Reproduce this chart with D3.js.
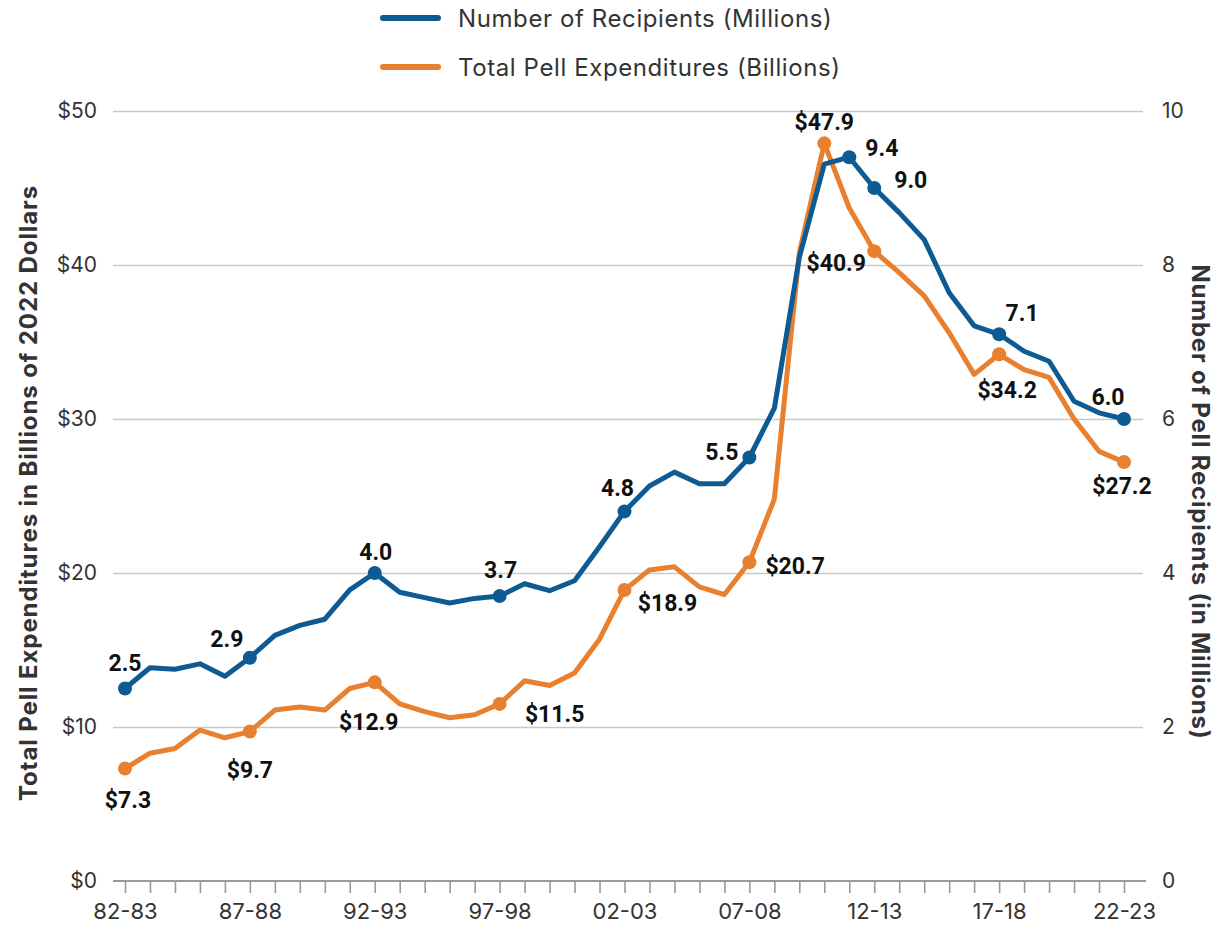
<!DOCTYPE html>
<html>
<head>
<meta charset="utf-8">
<script src="https://cdn.jsdelivr.net/npm/d3@7"></script>
<style>
  html, body { margin: 0; padding: 0; background: #fff; }
  svg { display: block; }
</style>
</head>
<body>
<svg id="chart" width="1217" height="928"></svg>
<script>
// ---------- DATA ----------
const years = ["82-83","83-84","84-85","85-86","86-87","87-88","88-89","89-90","90-91","91-92",
  "92-93","93-94","94-95","95-96","96-97","97-98","98-99","99-00","00-01","01-02",
  "02-03","03-04","04-05","05-06","06-07","07-08","08-09","09-10","10-11","11-12",
  "12-13","13-14","14-15","15-16","16-17","17-18","18-19","19-20","20-21","21-22","22-23"];
const xTickLabels = ["82-83","87-88","92-93","97-98","02-03","07-08","12-13","17-18","22-23"];

// Number of recipients (millions) - right axis
const recipients = [2.5, 2.77, 2.75, 2.82, 2.66, 2.9, 3.19, 3.32, 3.40, 3.78,
  4.0, 3.75, 3.68, 3.61, 3.67, 3.7, 3.86, 3.77, 3.90, 4.34,
  4.8, 5.13, 5.31, 5.16, 5.16, 5.5, 6.14, 8.1, 9.31, 9.4,
  9.0, 8.68, 8.33, 7.64, 7.21, 7.1, 6.88, 6.75, 6.23, 6.08, 6.0];
// Total Pell expenditures (billions of 2022 dollars) - left axis
const expenditures = [7.3, 8.3, 8.6, 9.8, 9.3, 9.7, 11.1, 11.3, 11.1, 12.5,
  12.9, 11.5, 11.0, 10.6, 10.8, 11.5, 13.0, 12.7, 13.5, 15.7,
  18.9, 20.2, 20.4, 19.1, 18.6, 20.7, 24.8, 40.8, 47.9, 43.7,
  40.9, 39.5, 38.0, 35.6, 32.9, 34.2, 33.2, 32.7, 30.0, 27.9, 27.2];

const recipientMarked = ["82-83","87-88","92-93","97-98","02-03","07-08","11-12","12-13","17-18","22-23"];
const expenditureMarked = ["82-83","87-88","92-93","97-98","02-03","07-08","10-11","12-13","17-18","22-23"];

const leftTicks = [0, 10, 20, 30, 40, 50];
const rightTicks = [0, 2, 4, 6, 8, 10];
const seriesNames = ["Number of Recipients (Millions)", "Total Pell Expenditures (Billions)"];
const leftTitle = "Total Pell Expenditures in Billions of 2022 Dollars";
const rightTitle = "Number of Pell Recipients (in Millions)";

// ---------- STYLE ----------
const BLUE = "#0e5b93";
const ORANGE = "#e8802f";
const TEXT = "#333";
const LABEL_FONT = "Roboto, 'Liberation Sans', sans-serif";
const UI_FONT = "Inter, 'Liberation Sans', sans-serif";

// label placement (dx, dy to baseline, anchor) keyed by category
const blueLabelPos = {
  "82-83": [0, -18, "middle"], "87-88": [-23, -11, "middle"], "92-93": [1, -13, "middle"],
  "97-98": [1, -18, "middle"], "02-03": [-7, -15, "middle"], "07-08": [-11, 2, "end"],
  "11-12": [16, -1, "start"], "12-13": [20, 0, "start"], "17-18": [23, -13, "middle"],
  "22-23": [-16, -14, "middle"]
};
const orangeLabelPos = {
  "82-83": [3, 39, "middle"], "87-88": [0, 46, "middle"], "92-93": [-6, 48, "middle"],
  "97-98": [55, 18, "middle"], "02-03": [43, 21, "middle"], "07-08": [16, 12, "start"],
  "10-11": [0, -13, "middle"], "12-13": [-38, 20, "middle"], "17-18": [8, 44, "middle"],
  "22-23": [-2, 32, "middle"]
};

const svg = d3.select("#chart");

const x = d3.scalePoint().domain(years).range([125, 1124]);
const yL = d3.scaleLinear().domain([0, 50]).range([881, 111]);
const yR = d3.scaleLinear().domain([0, 10]).range([881, 111]);
const gridLeft = 113, gridRight = 1143;

// gridlines + left axis
const gLeft = svg.append("g").attr("transform", `translate(${gridLeft},0)`)
  .call(d3.axisLeft(yL).tickValues(leftTicks).tickFormat(d => "$" + d)
    .tickSize(-(gridRight - gridLeft)).tickPadding(16));
gLeft.select(".domain").remove();
gLeft.selectAll(".tick line").attr("stroke", d => d === 0 ? "none" : "#c9c9c9").attr("stroke-width", 1.6);
gLeft.selectAll(".tick text").attr("font-family", UI_FONT).attr("font-size", 21).attr("fill", TEXT);

// right axis
const gRight = svg.append("g").attr("transform", `translate(${gridRight},0)`)
  .call(d3.axisRight(yR).tickValues(rightTicks).tickSize(0).tickPadding(19));
gRight.select(".domain").remove();
gRight.selectAll(".tick text").attr("font-family", UI_FONT).attr("font-size", 21).attr("fill", TEXT);

// bottom axis
svg.append("line").attr("x1", gridLeft).attr("x2", 1146).attr("y1", yL(0)).attr("y2", yL(0))
  .attr("stroke", "#9a9a9a").attr("stroke-width", 2.2);
const gBottom = svg.append("g").attr("transform", `translate(0,${yL(0)})`)
  .call(d3.axisBottom(x).tickSize(12).tickPadding(10)
    .tickFormat(d => xTickLabels.includes(d) ? d : ""));
gBottom.select(".domain").remove();
gBottom.selectAll(".tick line").attr("stroke", "#9a9a9a").attr("stroke-width", 1.6);
gBottom.selectAll(".tick text").attr("font-family", UI_FONT).attr("font-size", 22).attr("fill", TEXT);

// axis titles
svg.append("text").attr("transform", "translate(37,493) rotate(-90)")
  .attr("text-anchor", "middle").attr("font-family", UI_FONT).attr("font-weight", 700)
  .attr("font-size", 24).attr("letter-spacing", 0.9).attr("fill", TEXT).text(leftTitle);
svg.append("text").attr("transform", "translate(1192,502) rotate(90)")
  .attr("text-anchor", "middle").attr("font-family", UI_FONT).attr("font-weight", 700)
  .attr("font-size", 24).attr("letter-spacing", 0.8).attr("fill", TEXT).text(rightTitle);

// lines
const idx = d3.range(years.length);
const lineR = d3.line().x(i => x(years[i])).y(i => yR(recipients[i]));
const lineL = d3.line().x(i => x(years[i])).y(i => yL(expenditures[i]));

svg.append("path").datum(idx).attr("d", lineL).attr("fill", "none")
  .attr("stroke", ORANGE).attr("stroke-width", 5).attr("stroke-linejoin", "round");
svg.append("path").datum(idx).attr("d", lineR).attr("fill", "none")
  .attr("stroke", BLUE).attr("stroke-width", 5).attr("stroke-linejoin", "round");

// markers
svg.selectAll(".mo").data(expenditureMarked).enter().append("circle")
  .attr("cx", d => x(d)).attr("cy", d => yL(expenditures[years.indexOf(d)]))
  .attr("r", 7).attr("fill", ORANGE);
svg.selectAll(".mb").data(recipientMarked).enter().append("circle")
  .attr("cx", d => x(d)).attr("cy", d => yR(recipients[years.indexOf(d)]))
  .attr("r", 7).attr("fill", BLUE);

// labels
svg.selectAll(".lb").data(recipientMarked).enter().append("text")
  .attr("x", d => x(d) + blueLabelPos[d][0])
  .attr("y", d => yR(recipients[years.indexOf(d)]) + blueLabelPos[d][1])
  .attr("text-anchor", d => blueLabelPos[d][2])
  .attr("font-family", LABEL_FONT).attr("font-weight", 700).attr("font-size", 23)
  .attr("fill", "#111").text(d => recipients[years.indexOf(d)].toFixed(1));
svg.selectAll(".lo").data(expenditureMarked).enter().append("text")
  .attr("x", d => x(d) + orangeLabelPos[d][0])
  .attr("y", d => yL(expenditures[years.indexOf(d)]) + orangeLabelPos[d][1])
  .attr("text-anchor", d => orangeLabelPos[d][2])
  .attr("font-family", LABEL_FONT).attr("font-weight", 700).attr("font-size", 23)
  .attr("fill", "#111").text(d => "$" + expenditures[years.indexOf(d)].toFixed(1));

// legend
const legend = svg.append("g");
[[BLUE, 18], [ORANGE, 67]].forEach(([c, y], i) => {
  legend.append("line").attr("x1", 383).attr("x2", 438).attr("y1", y).attr("y2", y)
    .attr("stroke", c).attr("stroke-width", 6).attr("stroke-linecap", "round");
  legend.append("text").attr("x", 458).attr("y", y + 8.5)
    .attr("font-family", UI_FONT).attr("font-size", 24).attr("letter-spacing", 0.6)
    .attr("fill", TEXT).text(seriesNames[i]);
});
</script>
</body>
</html>
